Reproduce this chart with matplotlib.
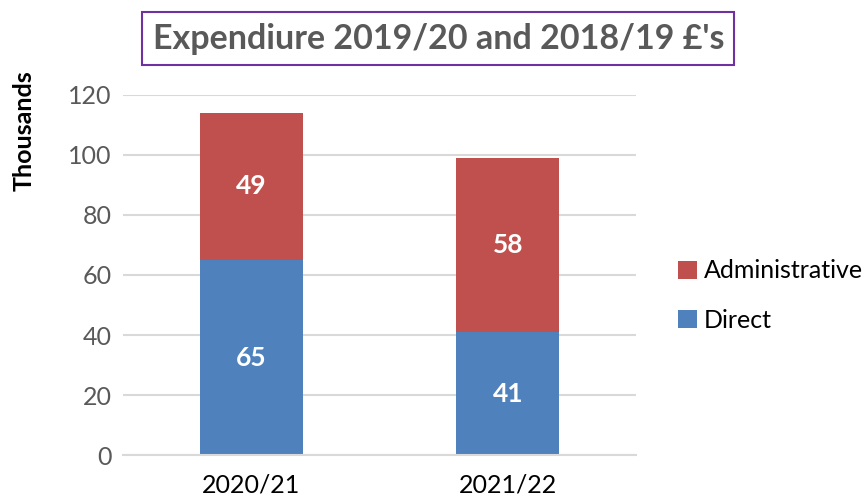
import numpy as np
import matplotlib.pyplot as plt

# DATA
years = ["2020/21", "2021/22"]
direct = [65, 41]
admin = [49, 58]

# STYLE
blue = "#4F81BD"
red = "#C0504D"
grey_text = "#595959"
grid_color = "#D9D9D9"
plt.rcParams['font.family'] = ['Lato', 'DejaVu Sans']

fig = plt.figure(figsize=(8.68, 5.01), dpi=100)
ax = fig.add_axes([0.1417, 0.0918, 0.591, 0.7186])

x = np.arange(len(years))
b1 = ax.bar(x, direct, width=0.4, color=blue, label="Direct", zorder=2)
b2 = ax.bar(x, admin, width=0.4, bottom=direct, color=red, label="Administrative", zorder=2)

# value labels in middle of each segment
for bars, vals, base in [(b1, direct, [0, 0]), (b2, admin, direct)]:
    for rect, v, b in zip(bars, vals, base):
        ax.text(rect.get_x() + rect.get_width() / 2, b + v / 2, str(v),
                ha='center', va='center', color='white', fontsize=19, fontweight='bold')

ax.set_xlim(-0.5, 1.5)
ax.set_ylim(0, 120)
ax.set_yticks(np.arange(0, 121, 20))
ax.set_xticks(x)
ax.set_xticklabels(years)
ax.yaxis.grid(True, color=grid_color, linewidth=1.5, zorder=0)
ax.set_axisbelow(True)
for s in ['top', 'right', 'left']:
    ax.spines[s].set_visible(False)
ax.spines['bottom'].set_color(grid_color)
ax.spines['bottom'].set_linewidth(1.5)
ax.tick_params(axis='both', length=0, labelsize=18, labelcolor=grey_text, pad=8)
ax.tick_params(axis='x', labelcolor='black', pad=13)

fig.text(0.028, 0.74, "Thousands", rotation=90, ha='center', va='center',
         fontsize=18, fontweight='bold', color='black')

fig.text(0.505, 0.923, "Expendiure 2019/20 and 2018/19 \u00a3's", ha='center', va='center',
         fontsize=24.5, fontweight='bold', color=grey_text,
         bbox=dict(boxstyle='square,pad=0.3', facecolor='white', edgecolor='#7030A0', linewidth=1.5))

ax.legend(handles=[b2, b1], loc='center left', bbox_to_anchor=(0.781, 0.41),
          bbox_transform=fig.transFigure, frameon=False, fontsize=18,
          handlelength=0.75, handleheight=0.75, handletextpad=0.3, labelspacing=1.05,
          borderaxespad=0, borderpad=0)

fig.savefig("out.png", dpi=100)
